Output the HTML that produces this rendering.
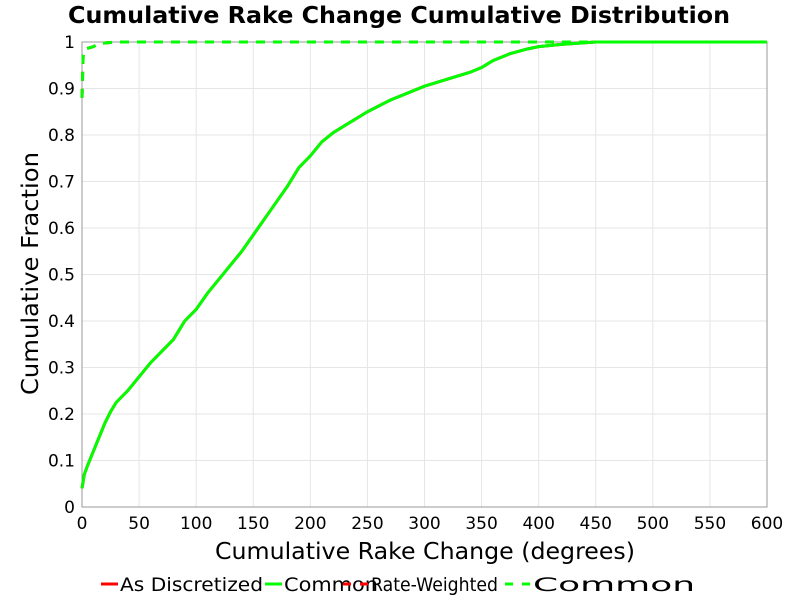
<!DOCTYPE html>
<html><head><meta charset="utf-8"><style>
body{margin:0;background:#fff}
svg text{font-family:"DejaVu Sans","Liberation Sans",sans-serif}
</style></head><body>
<svg id="chart" width="800" height="600" xmlns="http://www.w3.org/2000/svg">
<rect width="800" height="600" fill="#fff"/>
<text x="68" y="23" font-size="23" font-weight="bold" textLength="662" lengthAdjust="spacingAndGlyphs">Cumulative Rake Change Cumulative Distribution</text>
<g id="grid"></g>
<rect x="82" y="42" width="685" height="465" fill="none" stroke="#999"/>
<g id="ticks" font-size="17"></g>
<g id="series"></g>
<text x="215" y="559" font-size="23" textLength="420" lengthAdjust="spacingAndGlyphs">Cumulative Rake Change (degrees)</text>
<text transform="translate(38,395) rotate(-90)" font-size="23" textLength="243" lengthAdjust="spacingAndGlyphs">Cumulative Fraction</text>
<g font-size="19">
<g><line x1="101" y1="584" x2="118" y2="584" stroke="#f00" stroke-width="3"/><text x="120" y="591" textLength="143" lengthAdjust="spacingAndGlyphs">As Discretized</text></g>
<g><line x1="265" y1="584" x2="282" y2="584" stroke="#0f0" stroke-width="3"/><text x="284" y="591" textLength="94" lengthAdjust="spacingAndGlyphs">Common</text></g>
<g><line x1="343" y1="584" x2="368" y2="584" stroke="#f00" stroke-width="3" stroke-dasharray="8,9"/><text x="371" y="591" textLength="127" lengthAdjust="spacingAndGlyphs">Rate-Weighted</text></g>
<g><line x1="505" y1="584" x2="530" y2="584" stroke="#0f0" stroke-width="3" stroke-dasharray="8,9"/><text x="533" y="591" textLength="162" lengthAdjust="spacingAndGlyphs">Common</text></g>
</g>
</svg>
<script>
const xTicks=[0,50,100,150,200,250,300,350,400,450,500,550,600];
const yTicks=[0,0.1,0.2,0.3,0.4,0.5,0.6,0.7,0.8,0.9,1];
const yTickLabels=["0","0.1","0.2","0.3","0.4","0.5","0.6","0.7","0.8","0.9","1"];
const solidX=[0,2,5,10,15,20,25,30,40,50,60,70,80,85,90,100,110,120,130,140,150,160,170,180,190,200,210,220,230,250,270,300,320,340,350,360,375,390,400,420,450,600];
const solidY=[0.04,0.07,0.09,0.12,0.15,0.18,0.205,0.225,0.25,0.28,0.31,0.335,0.36,0.38,0.40,0.425,0.46,0.49,0.52,0.55,0.585,0.62,0.655,0.69,0.73,0.755,0.785,0.805,0.82,0.85,0.875,0.905,0.92,0.935,0.945,0.96,0.975,0.985,0.99,0.995,1.0,1.0];
const dashX=[0,1,3,10,15,30,600];
const dashY=[0.88,0.97,0.985,0.99,0.997,1,1];
const X0=82,X1=767,Y0=507,Y1=42;
const sx=v=>X0+(v-0)/(600-0)*(X1-X0);
const sy=v=>Y0-(v-0)/(1-0)*(Y0-Y1);
const NS="http://www.w3.org/2000/svg";
function mk(tag,attrs,parent){const e=document.createElementNS(NS,tag);for(const k in attrs)e.setAttribute(k,attrs[k]);parent.appendChild(e);return e;}
const grid=document.getElementById('grid'),ticks=document.getElementById('ticks'),series=document.getElementById('series');
xTicks.forEach(v=>{
 const g=mk('line',{x1:sx(v),x2:sx(v),y1:Y1,y2:Y0,stroke:'#e6e6e6'},grid);
 
 
 const t=mk('text',{x:sx(v),y:Y0+22,'text-anchor':'middle'},ticks);t.textContent=String(v);
 
 
});
yTicks.forEach((v,i)=>{
 const g=mk('line',{x1:X0,x2:X1,y1:sy(v),y2:sy(v),stroke:'#e6e6e6'},grid);
 
 
 const t=mk('text',{x:X0-7,y:sy(v)+6,'text-anchor':'end'},ticks);t.textContent=yTickLabels[i];
 
 
});
function pts(xs,ys){return xs.map((x,i)=>sx(x)+','+sy(ys[i])).join(' ');}
const s1=mk('polyline',{points:pts(solidX,solidY),fill:'none',stroke:'#f00','stroke-width':3},series);


const s2=mk('polyline',{points:pts(solidX,solidY),fill:'none',stroke:'#0f0','stroke-width':3},series);


const s3=mk('polyline',{points:pts(dashX,dashY),fill:'none',stroke:'#f00','stroke-width':3,'stroke-dasharray':'9,8'},series);


const s4=mk('polyline',{points:pts(dashX,dashY),fill:'none',stroke:'#0f0','stroke-width':3,'stroke-dasharray':'9,8'},series);


</script>
</body></html>
